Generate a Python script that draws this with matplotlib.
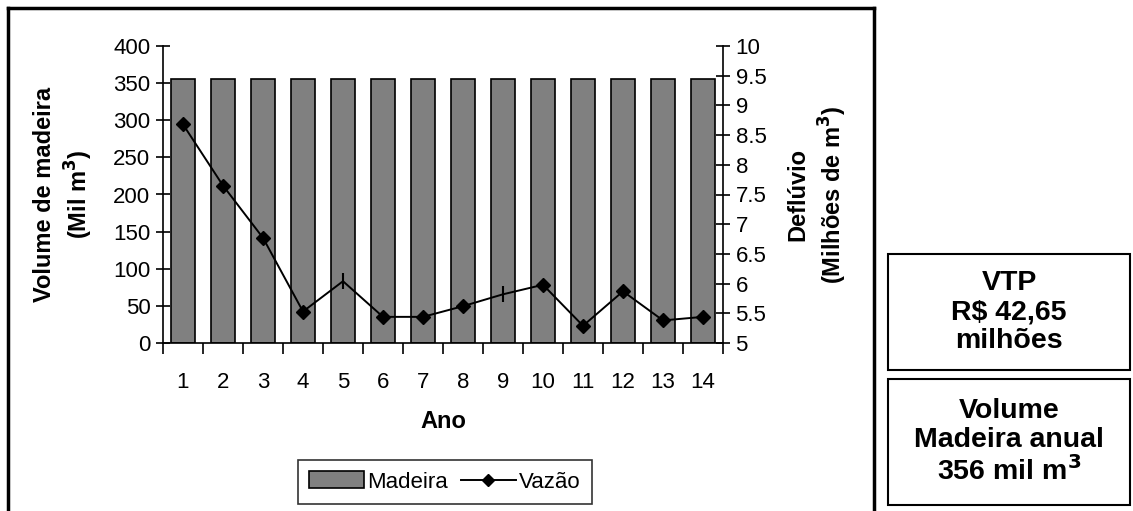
import matplotlib
matplotlib.use("Agg")
import matplotlib.pyplot as plt
from matplotlib.lines import Line2D
from matplotlib.patches import Rectangle, Patch

plt.rcParams['font.family'] = ['Liberation Sans', 'DejaVu Sans']

anos = list(range(1, 15))
madeira = [356] * 14
vazao = [8.68, 7.65, 6.77, 5.53, 6.04, 5.44, 5.44, 5.62, 5.82, 5.98, 5.29, 5.87, 5.38, 5.44]
left_ticks = [0, 50, 100, 150, 200, 250, 300, 350, 400]
right_ticks = [5, 5.5, 6, 6.5, 7, 7.5, 8, 8.5, 9, 9.5, 10]
right_labels = ['5', '5.5', '6', '6.5', '7', '7.5', '8', '8.5', '9', '9.5', '10']

W, H = 1133, 511
fig = plt.figure(figsize=(W / 100, H / 100), dpi=100)

def fx(px):
    return px / W

def fy(py):
    return 1 - py / H

TICK_FS = 16
LABEL_FS = 17

x0, x1, yt, yb = 163, 723, 46, 343
ax = fig.add_axes([fx(x0), fy(yb), fx(x1) - fx(x0), fy(yt) - fy(yb)])
ax.bar(anos, madeira, width=0.6, color='#808080', edgecolor='black', linewidth=1.2, zorder=2)
ax.set_xlim(0.5, 14.5)
ax.set_ylim(0, 400)
ax.set_yticks(left_ticks)
ax.set_yticklabels([str(t) for t in left_ticks], fontsize=TICK_FS)
ax.set_xticks(anos)
ax.set_xticklabels([str(a) for a in anos], fontsize=TICK_FS)
ax.tick_params(axis='x', length=0, pad=21)
ax.set_xticks([i + 0.5 for i in range(0, 15)], minor=True)
ax.tick_params(axis='x', which='minor', length=8, width=1.2, direction='out')
ax.tick_params(axis='y', length=10, width=1.2, direction='inout', pad=4)
for s in ['top', 'right']:
    ax.spines[s].set_visible(False)
for s in ['left', 'bottom']:
    ax.spines[s].set_linewidth(1.2)
ax.set_ylabel('Volume de madeira\n(Mil m$^\\mathbf{3}$)', fontsize=LABEL_FS, fontweight='bold',
              linespacing=1.3)
ax.yaxis.set_label_coords(-0.121, 0.5)
ax.set_xlabel('Ano', fontsize=LABEL_FS, fontweight='bold')
ax.xaxis.set_label_coords(0.5, -0.225)

ax2 = ax.twinx()
ax2.set_ylim(5, 10)
ax2.set_yticks(right_ticks)
ax2.set_yticklabels(right_labels, fontsize=TICK_FS)
ax2.tick_params(axis='y', length=10, width=1.2, direction='inout', pad=4)
for s in ['top', 'left', 'bottom']:
    ax2.spines[s].set_visible(False)
ax2.spines['right'].set_linewidth(1.2)
ax2.plot(anos, vazao, color='black', linewidth=1.4, zorder=3)
diamond_idx = [i for i in range(14) if anos[i] not in (5, 9)]
bar_idx = [i for i in range(14) if anos[i] in (5, 9)]
ax2.plot([anos[i] for i in diamond_idx], [vazao[i] for i in diamond_idx], linestyle='none',
         marker='D', markersize=7, color='black', zorder=4)
ax2.plot([anos[i] for i in bar_idx], [vazao[i] for i in bar_idx], linestyle='none',
         marker='|', markersize=12, markeredgewidth=1.5, color='black', zorder=4)
ax2.set_ylabel('Deflúvio\n(Milhões de m$^\\mathbf{3}$)', fontsize=LABEL_FS, fontweight='bold',
               rotation=90, linespacing=1.3)
ax2.yaxis.set_label_coords(1.114, 0.5)

handles = [Patch(facecolor='#808080', edgecolor='black', linewidth=1.2),
           Line2D([0], [0], color='black', marker='D', markersize=6, linewidth=1.4)]
leg = fig.legend(handles, ['Madeira', 'Vazão'], loc='center', ncol=2,
                 bbox_to_anchor=(fx(445), fy(482)), fontsize=16, frameon=True, fancybox=False,
                 edgecolor='black', handlelength=2.45, handletextpad=0.15, columnspacing=0.6,
                 borderpad=0.5, borderaxespad=0, handleheight=0.8)
leg.get_frame().set_linewidth(1.2)

# outer frame of the chart
fig.add_artist(Line2D([fx(8), fx(8)], [fy(8), 0], color='black', linewidth=2.5))
fig.add_artist(Line2D([fx(8), fx(874)], [fy(8), fy(8)], color='black', linewidth=2.5))
fig.add_artist(Line2D([fx(874), fx(874)], [fy(8), 0], color='black', linewidth=2.5))

# info boxes
def box(xa, ya, xb, yb2, text):
    fig.add_artist(Rectangle((fx(xa), fy(yb2)), fx(xb) - fx(xa), fy(ya) - fy(yb2),
                             fill=False, edgecolor='black', linewidth=1.5))
    fig.text((fx(xa) + fx(xb)) / 2, (fy(ya) + fy(yb2)) / 2, text, ha='center', va='center',
             fontsize=20.5, fontweight='bold', linespacing=1.15)

box(888, 254, 1130, 370, 'VTP\nR$ 42,65\nmilhões')
box(888, 379, 1130, 505, 'Volume\nMadeira anual\n356 mil m$^\\mathbf{3}$')

fig.savefig('out.png', dpi=100)
